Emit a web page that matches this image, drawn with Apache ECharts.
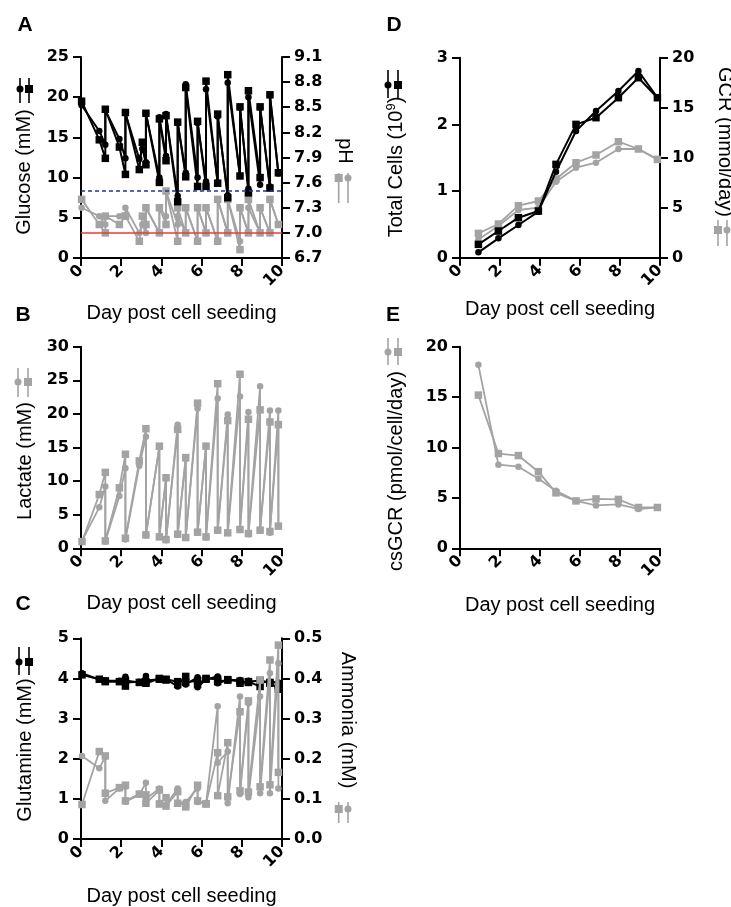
<!DOCTYPE html>
<html>
<head>
<meta charset="utf-8">
<script src="https://cdn.jsdelivr.net/npm/echarts@6/dist/echarts.min.js"></script>
<style>
  html, body { margin: 0; padding: 0; background: #fff; }
  #chart { width: 731px; height: 907px; }
</style>
</head>
<body>
<div id="chart"></div>
<script>
// ---- Panel A: glucose (left axis) and pH (right axis) over the fed-batch run
const gluDays   = [0.03, 0.91, 1.21, 1.21, 1.91, 2.21, 2.21, 2.9, 3.05, 3.23, 3.23, 3.9, 3.9, 4.23, 4.23, 4.81, 4.81, 5.21, 5.21, 5.8, 5.8, 6.22, 6.22, 6.8, 6.8, 7.3, 7.3, 7.91, 7.91, 8.33, 8.33, 8.91, 8.91, 9.4, 9.4, 9.82];
const gluCircle = [19.0, 15.8, 14.1, 18.4, 14.8, 12.4, 18.0, 12.3, 13.6, 11.9, 18.0, 10.0, 17.5, 12.7, 17.9, 7.7, 16.8, 10.6, 21.6, 10.0, 16.8, 9.5, 21.0, 9.4, 17.6, 7.8, 21.8, 10.2, 18.7, 8.6, 20.0, 9.1, 18.7, 8.9, 20.2, 10.5];
const gluSquare = [19.5, 14.7, 12.4, 18.5, 13.8, 10.4, 18.1, 11.0, 14.4, 11.6, 18.0, 9.4, 17.3, 12.1, 17.7, 7.0, 16.9, 10.1, 21.2, 8.9, 17.0, 8.9, 22.0, 9.3, 17.9, 7.5, 22.8, 10.2, 18.8, 8.1, 20.8, 10.0, 18.8, 8.7, 20.3, 10.6];
const phCircle  = [7.3, 7.2, 7.1, 7.2, 7.2, 7.2, 7.3, 7.0, 7.1, 7.0, 7.3, 7.0, 7.3, 7.2, 7.5, 7.1, 7.2, 7.0, 7.3, 6.9, 7.3, 7.0, 7.3, 6.9, 7.4, 7.0, 7.4, 6.9, 7.3, 7.0, 7.3, 7.0, 7.3, 7.0, 7.4, 7.1];
const phSquare  = [7.4, 7.1, 7.0, 7.2, 7.1, 7.2, 7.2, 6.9, 7.2, 7.1, 7.3, 7.0, 7.3, 7.1, 7.5, 6.9, 7.3, 7.0, 7.3, 6.9, 7.3, 7.0, 7.3, 6.9, 7.4, 7.0, 7.4, 6.8, 7.3, 7.0, 7.4, 7.0, 7.3, 7.0, 7.4, 7.1];
const phLower = 7.0;   // solid reference line
const phUpper = 7.5;   // dashed reference line

// ---- Panels B and C: lactate, glutamine and ammonia, sampled before/after each feed
const metDays   = [0.05, 0.91, 1.21, 1.21, 1.91, 2.21, 2.21, 2.9, 3.23, 3.23, 3.9, 3.9, 4.23, 4.23, 4.81, 4.81, 5.21, 5.21, 5.8, 5.8, 6.22, 6.22, 6.8, 6.8, 7.3, 7.3, 7.91, 7.91, 8.33, 8.33, 8.91, 8.91, 9.4, 9.4, 9.82, 9.82];
const lacCircle = [1.1, 6.1, 9.2, 1.0, 7.8, 11.9, 1.3, 12.3, 16.6, 1.9, 15.1, 1.8, 10.4, 1.2, 18.4, 2.0, 13.3, 1.6, 20.8, 2.3, 15.2, 1.6, 22.3, 2.6, 19.9, 2.3, 22.6, 2.8, 20.3, 2.1, 24.1, 2.6, 20.5, 2.3, 20.5, 3.3];
const lacSquare = [1.0, 8.0, 11.3, 1.1, 9.0, 14.0, 1.5, 13.0, 17.8, 2.0, 15.2, 1.7, 10.5, 1.3, 17.7, 2.1, 13.5, 1.6, 21.6, 2.4, 15.2, 1.7, 24.5, 2.7, 19.0, 2.3, 25.9, 2.8, 19.2, 2.2, 20.6, 2.7, 18.8, 2.5, 18.4, 3.3];
const glnCircle = [4.13, 3.97, 3.95, 3.93, 3.94, 4.04, 3.90, 3.92, 4.06, 3.95, 3.98, 4.00, 3.98, 3.97, 3.80, 3.92, 3.95, 3.85, 4.03, 3.78, 3.98, 4.00, 4.05, 3.88, 3.96, 3.95, 3.96, 3.90, 3.92, 3.94, 3.95, 3.90, 3.92, 3.88, 3.90, 3.85];
const glnSquare = [4.09, 3.98, 3.92, 3.94, 3.92, 3.81, 3.95, 3.90, 3.88, 3.92, 4.00, 3.98, 3.98, 3.96, 3.92, 3.85, 4.05, 3.90, 3.95, 3.85, 4.00, 3.98, 3.98, 3.92, 3.96, 3.97, 3.93, 3.88, 3.92, 3.90, 3.80, 3.95, 3.90, 3.88, 3.73, 3.82];
const nh3Circle = [0.207, 0.176, 0.205, 0.095, 0.126, 0.130, 0.093, 0.110, 0.140, 0.100, 0.126, 0.090, 0.103, 0.085, 0.126, 0.090, 0.092, 0.090, 0.126, 0.092, 0.088, 0.087, 0.331, 0.190, 0.218, 0.089, 0.355, 0.112, 0.338, 0.104, 0.355, 0.114, 0.413, 0.114, 0.438, 0.126];
const nh3Square = [0.086, 0.218, 0.207, 0.114, 0.128, 0.134, 0.095, 0.112, 0.110, 0.089, 0.122, 0.087, 0.103, 0.082, 0.118, 0.089, 0.085, 0.080, 0.134, 0.095, 0.088, 0.087, 0.215, 0.108, 0.240, 0.105, 0.317, 0.120, 0.344, 0.117, 0.396, 0.130, 0.446, 0.135, 0.483, 0.166];

// ---- Panels D and E: daily cell counts and glucose consumption rates
const dailyDays   = [0.92, 1.92, 2.92, 3.92, 4.8, 5.8, 6.8, 7.92, 8.92, 9.87];
const cellsCircle = [0.08, 0.29, 0.49, 0.69, 1.29, 1.90, 2.20, 2.50, 2.80, 2.40];
const cellsSquare = [0.20, 0.40, 0.60, 0.70, 1.40, 2.00, 2.10, 2.40, 2.70, 2.40];
const gcrCircle   = [1.83, 3.17, 4.77, 5.0, 7.6, 9.0, 9.5, 10.87, 10.87, 9.83];
const gcrSquare   = [2.43, 3.37, 5.2, 5.67, 7.87, 9.5, 10.27, 11.6, 10.87, 9.83];
const csgcrCircle = [18.2, 8.3, 8.1, 6.9, 5.7, 4.7, 4.25, 4.35, 3.9, 4.05];
const csgcrSquare = [15.2, 9.4, 9.2, 7.6, 5.5, 4.7, 4.9, 4.85, 4.05, 4.05];

const xTitle = 'Day post cell seeding';

// ---------------------------------------------------------------------------
const BLACK = '#000000';
const GRAY = '#a3a3a3';
const TICK_FONT = 'DejaVu Sans';
const TEXT_FONT = 'Liberation Sans';

const zip = (xs, ys) => xs.map((x, i) => [x, ys[i]]);

const grids = [
  { left: 81,  top: 57,    width: 201, height: 201 },   // A
  { left: 81,  top: 346.7, width: 201, height: 201.6 }, // B
  { left: 81,  top: 638.3, width: 201, height: 200.7 }, // C
  { left: 460, top: 57.7,  width: 200, height: 200 },   // D
  { left: 460, top: 346.7, width: 200, height: 201.6 }  // E
];

const axisLine = { show: true, onZero: false, lineStyle: { color: BLACK, width: 2 } };
const axisTick = { show: true, length: 8, lineStyle: { color: BLACK, width: 2 } };
const tickLabel = { fontFamily: TICK_FONT, fontWeight: 'bold', fontSize: 16, color: BLACK };

function xAxisFor(gridIndex, gap) {
  return {
    type: 'value', gridIndex, min: 0, max: 10, interval: 2,
    axisLine, axisTick, splitLine: { show: false },
    axisLabel: Object.assign({ rotate: 45, margin: 10 }, tickLabel),
    name: xTitle, nameLocation: 'middle', nameGap: gap, nameMoveOverlap: false,
    nameTextStyle: { fontFamily: TEXT_FONT, fontSize: 20, color: BLACK }
  };
}

function yAxisFor(gridIndex, min, max, interval, position, digits) {
  return {
    type: 'value', gridIndex, min, max, interval, position,
    axisLine, axisTick, splitLine: { show: false },
    axisLabel: Object.assign({
      margin: 12,
      formatter: v => v.toFixed(digits)
    }, tickLabel)
  };
}

function series(data, xi, yi, marker, color, z, extra) {
  return Object.assign({
    type: 'line', data, xAxisIndex: xi, yAxisIndex: yi,
    symbol: marker === 'circle' ? 'circle' : 'rect',
    symbolSize: marker === 'circle' ? 6.5 : 7.5,
    showSymbol: true, animation: false, z,
    lineStyle: { color, width: color === BLACK ? 2 : 1.8 },
    itemStyle: { color },
    emphasis: { disabled: true }
  }, extra || {});
}

const xAxis = [xAxisFor(0, 45), xAxisFor(1, 45), xAxisFor(2, 47), xAxisFor(3, 42), xAxisFor(4, 47)];
const yAxis = [
  yAxisFor(0, 0, 25, 5, 'left', 0),        // 0 glucose
  yAxisFor(0, 6.7, 9.1, 0.3, 'right', 1),  // 1 pH
  yAxisFor(1, 0, 30, 5, 'left', 0),        // 2 lactate
  yAxisFor(2, 0, 5, 1, 'left', 0),         // 3 glutamine
  yAxisFor(2, 0, 0.5, 0.1, 'right', 1),    // 4 ammonia
  yAxisFor(3, 0, 3, 1, 'left', 0),         // 5 total cells
  yAxisFor(3, 0, 20, 5, 'right', 0),       // 6 GCR
  yAxisFor(4, 0, 20, 5, 'left', 0)         // 7 csGCR
];

// pH limits drawn across panel A, beneath the data
const limitSeries = {
  type: 'line', data: [], xAxisIndex: 0, yAxisIndex: 1, z: 1, silent: true,
  markLine: {
    silent: true, symbol: ['none', 'none'], animation: false,
    label: { show: false },
    lineStyle: { color: '#e8433f', width: 1.5, type: 'solid' },
    data: [
      { yAxis: phLower, lineStyle: { color: '#ea3b3b', width: 1.5, type: 'solid' } },
      { yAxis: phUpper, lineStyle: { color: '#2a2f9e', width: 1.6, type: [4, 3] } }
    ]
  }
};

const seriesList = [
  limitSeries,
  // A
  series(zip(gluDays, phCircle), 0, 1, 'circle', GRAY, 2),
  series(zip(gluDays, phSquare), 0, 1, 'square', GRAY, 2),
  series(zip(gluDays, gluCircle), 0, 0, 'circle', BLACK, 3),
  series(zip(gluDays, gluSquare), 0, 0, 'square', BLACK, 3),
  // B
  series(zip(metDays, lacCircle), 1, 2, 'circle', GRAY, 2),
  series(zip(metDays, lacSquare), 1, 2, 'square', GRAY, 2),
  // C
  series(zip(metDays, glnCircle), 2, 3, 'circle', BLACK, 2),
  series(zip(metDays, glnSquare), 2, 3, 'square', BLACK, 2),
  series(zip(metDays, nh3Circle), 2, 4, 'circle', GRAY, 3),
  series(zip(metDays, nh3Square), 2, 4, 'square', GRAY, 3),
  // D
  series(zip(dailyDays, gcrCircle), 3, 6, 'circle', GRAY, 2),
  series(zip(dailyDays, gcrSquare), 3, 6, 'square', GRAY, 2),
  series(zip(dailyDays, cellsCircle), 3, 5, 'circle', BLACK, 3),
  series(zip(dailyDays, cellsSquare), 3, 5, 'square', BLACK, 3),
  // E
  series(zip(dailyDays, csgcrCircle), 4, 7, 'circle', GRAY, 2),
  series(zip(dailyDays, csgcrSquare), 4, 7, 'square', GRAY, 2)
];

// Rotated axis titles, panel letters and the small marker keys beside the titles
function title(text, x, y, rot, rich) {
  const el = {
    type: 'text', x, y, rotation: rot, silent: true,
    style: { text, fontFamily: TEXT_FONT, fontSize: 20, fill: BLACK, align: 'center', verticalAlign: 'middle' }
  };
  if (rich) el.style.rich = rich;
  return el;
}
function letter(text, x, y) {
  return {
    type: 'text', x, y, silent: true,
    style: { text, fontFamily: TEXT_FONT, fontWeight: 'bold', fontSize: 21, fill: BLACK, align: 'center', verticalAlign: 'middle' }
  };
}
function key(xCircle, xSquare, yTop, yBottom, yMark, color) {
  const out = [];
  [xCircle, xSquare].forEach(x => out.push({
    type: 'line', silent: true,
    shape: { x1: x, y1: yTop, x2: x, y2: yBottom },
    style: { stroke: color, lineWidth: 1.6 }
  }));
  out.push({ type: 'circle', silent: true, shape: { cx: xCircle, cy: yMark, r: 3.5 }, style: { fill: color } });
  out.push({ type: 'rect', silent: true, shape: { x: xSquare - 4, y: yMark - 4, width: 8, height: 8 }, style: { fill: color } });
  return out;
}

const UP = Math.PI / 2, DOWN = -Math.PI / 2;
const graphics = [
  letter('A', 25, 25), letter('B', 23, 315), letter('C', 23, 604),
  letter('D', 394, 25), letter('E', 393, 315),
  title('Glucose (mM)', 24, 172, UP),
  title('pH', 345, 151, DOWN),
  title('Lactate (mM)', 25, 461, UP),
  title('Glutamine (mM)', 25, 750, UP),
  title('Ammonia (mM)', 348, 720, DOWN),
  title('{n|Total Cells (10}{s|9}{n|)}', 396, 167, UP, {
    n: { fontFamily: TEXT_FONT, fontSize: 20, lineHeight: 22 },
    s: { fontFamily: TEXT_FONT, fontSize: 13, verticalAlign: 'top', lineHeight: 22, padding: [0, 0, 8, 0] }
  }),
  title('GCR (mmol/day)', 725, 142, DOWN),
  title('csGCR (pmol/cell/day)', 396, 471, UP)
].concat(
  key(20, 29, 78, 103, 89, BLACK),
  key(348, 338.7, 173, 203, 178, GRAY),
  key(18, 28, 368, 397, 382, GRAY),
  key(19, 29, 647, 675, 662, BLACK),
  key(348, 338.7, 802, 823, 809, GRAY),
  key(388, 398, 70, 98, 85, BLACK),
  key(727, 718, 220, 246, 230, GRAY),
  key(388, 398, 338, 365, 352, GRAY)
);

const chart = echarts.init(document.getElementById('chart'), null, { renderer: 'canvas' });
chart.setOption({
  backgroundColor: '#ffffff',
  animation: false,
  grid: grids,
  xAxis, yAxis,
  series: seriesList,
  graphic: { elements: graphics }
});
</script>
</body>
</html>
